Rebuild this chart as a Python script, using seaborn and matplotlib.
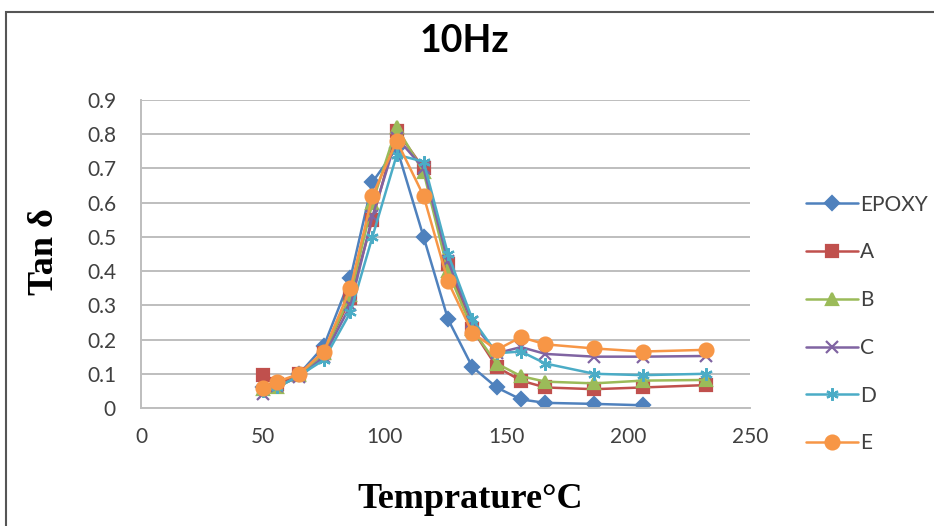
import matplotlib
matplotlib.use("Agg")
import matplotlib.pyplot as plt
from matplotlib.patches import Rectangle
import seaborn as sns
import pandas as pd

# Measurement temperatures (°C)
temps = [50, 56, 65, 75, 86, 95, 105, 116, 126, 136, 146, 156, 166, 186, 206, 232]

# Tan delta readings at 10 Hz for each formulation
epoxy = [0.06, 0.07, 0.10, 0.18, 0.38, 0.66, 0.76, 0.50, 0.26, 0.12, 0.06, 0.025, 0.015, 0.012, 0.008]
a_vals = [0.095, 0.07, 0.10, 0.16, 0.32, 0.55, 0.81, 0.70, 0.42, 0.23, 0.12, 0.08, 0.06, 0.055, 0.06, 0.067]
b_vals = [0.055, 0.06, 0.095, 0.16, 0.33, 0.60, 0.82, 0.69, 0.40, 0.23, 0.13, 0.093, 0.077, 0.072, 0.08, 0.082]
c_vals = [0.04, 0.065, 0.09, 0.15, 0.30, 0.56, 0.79, 0.70, 0.43, 0.25, 0.16, 0.178, 0.158, 0.15, 0.15, 0.152]
d_vals = [0.05, 0.06, 0.095, 0.14, 0.28, 0.50, 0.74, 0.72, 0.45, 0.26, 0.16, 0.165, 0.13, 0.10, 0.096, 0.10]
e_vals = [0.058, 0.077, 0.10, 0.165, 0.35, 0.62, 0.78, 0.62, 0.37, 0.22, 0.17, 0.207, 0.186, 0.174, 0.165, 0.17]

series_names = ["EPOXY", "A", "B", "C", "D", "E"]
series_vals = [epoxy, a_vals, b_vals, c_vals, d_vals, e_vals]
colors = ["#4F81BD", "#C0504D", "#9BBB59", "#8064A2", "#4BACC6", "#F79646"]
markers = ["D", "s", "^", "x", (6, 2, 0), "o"]
msizes = [7, 8, 8, 8, 9, 10]

x_ticks = [0, 50, 100, 150, 200, 250]
y_ticks = [0, 0.1, 0.2, 0.3, 0.4, 0.5, 0.6, 0.7, 0.8, 0.9]
y_tick_labels = ["0", "0.1", "0.2", "0.3", "0.4", "0.5", "0.6", "0.7", "0.8", "0.9"]

rows = []
for name, vals in zip(series_names, series_vals):
    for t, v in zip(temps, vals):
        rows.append({"Temp": t, "TanD": v, "Sample": name})
df = pd.DataFrame(rows)

sns.set_theme(style="white")
plt.rcParams["font.family"] = ["Lato", "DejaVu Sans"]

fig = plt.figure(figsize=(9.34, 5.26), dpi=100)
ax = fig.add_axes([141 / 934, 1 - 408 / 526, (750 - 141) / 934, (408 - 100) / 526])

for name, c, mk, ms in zip(series_names, colors, markers, msizes):
    sub = df[df["Sample"] == name]
    sns.lineplot(
        data=sub, x="Temp", y="TanD", color=c, marker=mk, markersize=ms,
        markeredgecolor=c, markerfacecolor=c, markeredgewidth=1.6,
        linewidth=1.8, ax=ax, legend=False, sort=False, errorbar=None,
    )

ax.set_xlim(0, 250)
ax.set_ylim(0, 0.9)
ax.set_xticks(x_ticks)
ax.set_xticklabels([str(t) for t in x_ticks])
ax.set_yticks(y_ticks)
ax.set_yticklabels(y_tick_labels)
ax.tick_params(axis="both", length=0, labelsize=15, colors="#404040")
ax.tick_params(axis="y", pad=18)
ax.tick_params(axis="x", pad=14)
ax.yaxis.grid(True, color="#BEBEBE", linewidth=1.4)
ax.xaxis.grid(False)
for side in ["top", "right"]:
    ax.spines[side].set_visible(False)
for side in ["left", "bottom"]:
    ax.spines[side].set_color("#BEBEBE")
    ax.spines[side].set_linewidth(1.4)
ax.set_axisbelow(True)

ax.set_xlabel("Temprature°C", fontsize=26, fontweight="bold",
              family=["Liberation Serif", "DejaVu Serif"], color="black")
ax.xaxis.set_label_coords((470 - 141) / 609, -(500 - 408) / 308)
ax.xaxis.label.set_va("center")
ax.set_ylabel("Tan δ", fontsize=26, fontweight="bold",
              family=["Liberation Serif", "DejaVu Serif"], color="black")
ax.yaxis.set_label_coords(-(141 - 45) / 609, (408 - 252) / 308)
ax.yaxis.label.set_va("center")

fig.text(0.497, 1 - 41 / 526, "10Hz", ha="center", va="center",
         fontsize=27, fontweight="bold", color="black")

# Legend on the right
handles = [
    plt.Line2D([], [], color=c, marker=mk, markersize=ms, markeredgecolor=c,
               markerfacecolor=c, markeredgewidth=1.6, linewidth=1.8)
    for c, mk, ms in zip(colors, markers, msizes)
]
fig.legend(handles, series_names, loc="upper left",
           bbox_to_anchor=(787 / 934, 1 - 176 / 526), frameon=False,
           fontsize=15, labelspacing=1.33, handlelength=2.5, handletextpad=0.12,
           labelcolor="#404040")

# Chart frame
fig.patches.append(Rectangle((5.5 / 934, -0.1), 2.0, 1.1 - 12.5 / 526,
                             transform=fig.transFigure, fill=False,
                             edgecolor="#555555", linewidth=1.5, zorder=10))

fig.savefig("out.png", dpi=100, facecolor="white")
